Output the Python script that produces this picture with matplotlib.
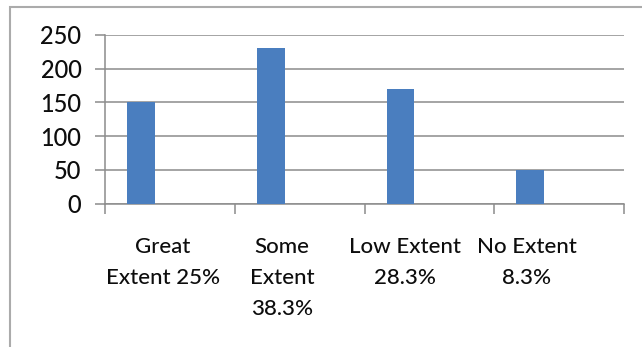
import matplotlib
matplotlib.use("Agg")
import matplotlib.pyplot as plt
import numpy as np
from matplotlib.patches import Rectangle

categories = ["Great\nExtent 25%", "Some\nExtent\n38.3%", "Low Extent\n28.3%", "No Extent\n8.3%"]
values = [150, 230, 170, 50]
y_ticks = [0, 50, 100, 150, 200, 250]

plt.rcParams["font.family"] = ["Lato", "DejaVu Sans"]

fig = plt.figure(figsize=(6.42, 3.47), dpi=100)
fig.patch.set_facecolor("white")

# outer chart frame
fig.patches.append(Rectangle((10 / 642, -0.05), 1.0, 1 - 7 / 347 + 0.05,
                             transform=fig.transFigure, fill=False,
                             edgecolor="#ababab", linewidth=1.5))

ax = fig.add_axes([105 / 642, 1 - 203.5 / 347, (624 - 105) / 642, (203.5 - 35) / 347])

grid_color = "#8c8c8c"
text_color = "#0d0d0d"
x = np.arange(len(values))
ax.bar(x + 0.17, values, width=0.215, align="edge", color="#4a7ebf", zorder=3)

ax.set_xlim(0, len(values))
ax.set_ylim(0, 250)
ax.set_yticks(y_ticks)
ax.set_yticklabels([str(v) for v in y_ticks], fontsize=17, color=text_color,
                   fontweight="medium")
ax.yaxis.grid(True, color=grid_color, linewidth=1.1, zorder=0)
ax.tick_params(axis="y", length=7, width=1.1, color=grid_color, pad=10, left=True)

# tick marks at category boundaries, labels placed under each category
ax.set_xticks(np.arange(len(values) + 1), minor=True)
ax.set_xticks([0.446, 1.365, 2.315, 3.25])
ax.set_xticklabels(categories, fontsize=16, color=text_color, linespacing=1.68,
                   fontweight="medium")
ax.tick_params(axis="x", which="major", length=0, pad=24)
ax.tick_params(axis="x", which="minor", length=7, width=1.1, color=grid_color)

for side in ["top", "right"]:
    ax.spines[side].set_visible(False)
for side in ["left", "bottom"]:
    ax.spines[side].set_color(grid_color)
    ax.spines[side].set_linewidth(1.1)

fig.savefig("out.png", dpi=100, facecolor="white")
